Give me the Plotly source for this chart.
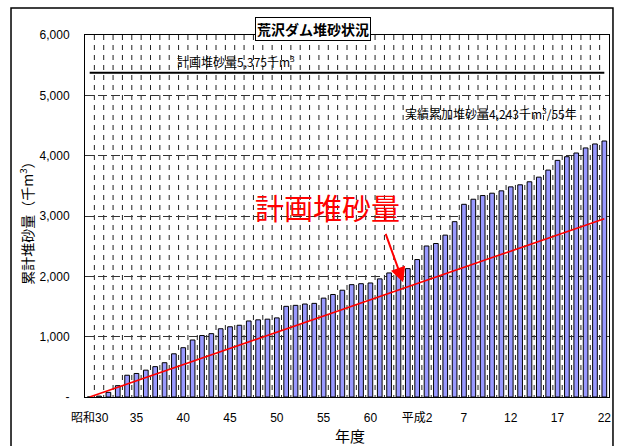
import plotly.graph_objects as go

# fiscal years 昭和30 (1955) .. 平成22 (2010)
years = list(range(1955, 2011))

# cumulative sediment (千m3)
sediment = [0, 15, 77, 188, 361, 390, 445, 503, 568, 716,
            817, 945, 1019, 1050, 1131, 1164, 1189, 1260, 1279, 1290,
            1311, 1503, 1519, 1541, 1552, 1639, 1699, 1770, 1862, 1878,
            1890, 1958, 2056, 2070, 2128, 2278, 2503, 2544, 2683, 2906,
            3194, 3278, 3339, 3378, 3417, 3483, 3517, 3567, 3644, 3761,
            3922, 3983, 4044, 4128, 4194, 4243]

# plan: 5,375 over 100 years -> value after 55 years
plan_x = [1955, 2010]
plan_y = [0, 2956]
plan_total_y = [5375, 5375]

tick_vals = [1955, 1960, 1965, 1970, 1975, 1980, 1985, 1990, 1995, 2000, 2005, 2010]
tick_text = ["昭和30", "35", "40", "45", "50", "55", "60", "平成2", "7", "12", "17", "22"]

y_vals = [0, 1000, 2000, 3000, 4000, 5000, 6000]
y_text = ["-", "1,000", "2,000", "3,000", "4,000", "5,000", "6,000"]

JP = "Noto Sans CJK JP"
NUM = "Liberation Sans, Noto Sans CJK JP"

fig = go.Figure()
fig.add_trace(go.Bar(x=years, y=sediment,
                     marker=dict(color="#9999FF", line=dict(color="black", width=1))))
fig.add_trace(go.Scatter(x=plan_x, y=plan_y, mode="lines",
                         line=dict(color="red", width=1.6)))
fig.add_trace(go.Scatter(x=plan_x, y=plan_total_y, mode="lines",
                         line=dict(color="black", width=2)))

fig.update_layout(
    template="none",
    width=617, height=446,
    margin=dict(l=85, r=8, t=35, b=49),
    paper_bgcolor="white", plot_bgcolor="white",
    showlegend=False, bargap=0.5,
    font=dict(family=NUM, color="black", size=12),
)

fig.update_xaxes(
    range=[1954.5, 2010.5], tickmode="array", tickvals=tick_vals, ticktext=tick_text,
    showgrid=False, showline=True, linecolor="black", linewidth=1, mirror=True,
    ticks="", ticklabelstandoff=10, zeroline=False,
    tickfont=dict(family=NUM, size=12),
)
fig.update_yaxes(
    range=[0, 6000], tickmode="array", tickvals=y_vals, ticktext=y_text,
    showgrid=True, gridcolor="#333", griddash="9px,4px", gridwidth=1,
    showline=True, linecolor="black", linewidth=1, mirror=True,
    ticks="outside", ticklen=12, tickcolor="white",
    zeroline=False, tickfont=dict(family=NUM, size=12),
)

# vertical dashed grid at category boundaries
for yr in years[1:]:
    fig.add_shape(type="line", xref="x", yref="paper", x0=yr - 0.5, x1=yr - 0.5, y0=1, y1=0,
                  layer="below", line=dict(color="#222", width=1, dash="5px,5px"))

# outer chart frame
fig.add_shape(type="rect", xref="paper", yref="paper",
              x0=-0.1412, x1=1.0076, y0=-0.2, y1=1.0746,
              line=dict(color="black", width=1.5))

ann = dict(xref="paper", yref="paper", showarrow=False, xanchor="center", yanchor="middle")
fig.add_annotation(text="<b>荒沢ダム堆砂状況</b>", x=0.435, y=1.0166, bgcolor="white",
                   bordercolor="black", borderwidth=1, borderpad=1,
                   font=dict(family=JP, size=14), **ann)
fig.add_annotation(text="計画堆砂量5,375千m<sup>3</sup>", x=0.288, y=0.928,
                   font=dict(family=JP, size=12), **ann)
fig.add_annotation(text="実績累加堆砂量4,243千m<sup>3</sup>/55年", x=0.775, y=0.785,
                   font=dict(family=JP, size=12), **ann)
fig.add_annotation(text="計画堆砂量", x=0.462, y=0.525,
                   font=dict(family=JP, size=29, color="red"), **ann)
fig.add_annotation(text="", x=1988.5, y=1900, ax=-18, ay=-50,
                   showarrow=True, arrowhead=2, arrowsize=1.5, arrowwidth=2, arrowcolor="red")
fig.add_annotation(text="累計堆砂量（千m<sup>3</sup>）", x=-0.111, y=0.489, textangle=-90,
                   font=dict(family=JP, size=14), **ann)
fig.add_annotation(text="年度", x=0.506, y=-0.105,
                   font=dict(family=JP, size=15), **ann)

fig.write_html("out.html", config={"displayModeBar": False},
               post_script="document.body.style.margin='0';")
